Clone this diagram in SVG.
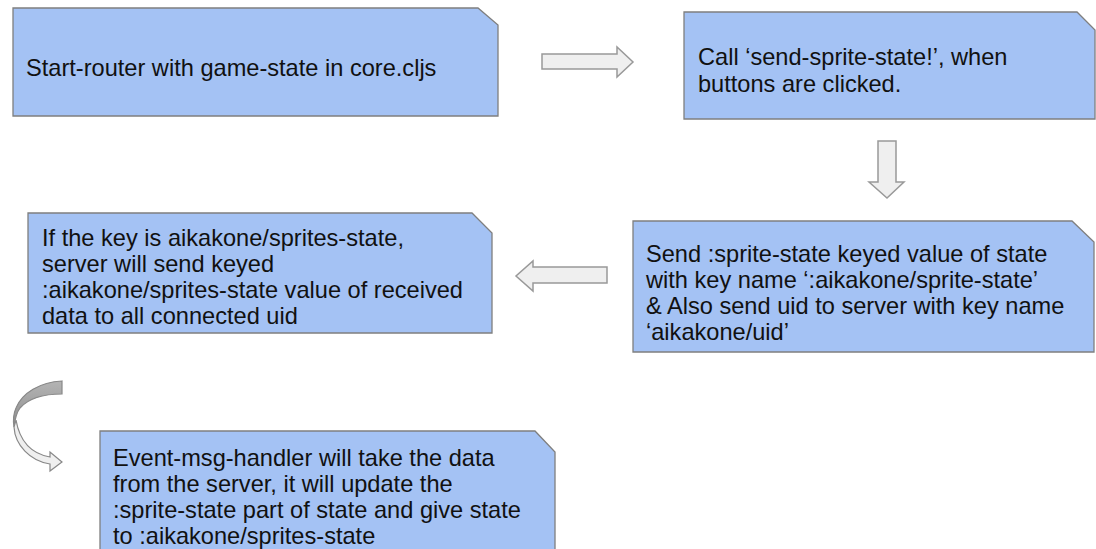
<svg xmlns="http://www.w3.org/2000/svg" width="1096" height="549" viewBox="0 0 1096 549">
  <defs>
    <linearGradient id="curveDark" x1="0" y1="0" x2="0" y2="1">
      <stop offset="0" stop-color="#b4b4b4"/>
      <stop offset="1" stop-color="#8e8e8e"/>
    </linearGradient>
  </defs>
  <style>
    .box { fill: #a4c2f4; stroke: #7f7f7f; stroke-width: 1.3; }
    .arrow { fill: #efefef; stroke: #999999; stroke-width: 1.5; stroke-linejoin: miter; }
    .txt { font-family: "Liberation Sans", Arial, sans-serif; font-size: 23.6px; fill: #111111; }
  </style>
  <rect width="1096" height="549" fill="#ffffff"/>

  <g id="node-start-router">
    <path class="box" d="M13,8 H478 L498,25 V116 H13 Z"/>
    <text class="txt" x="26" y="76">Start-router with game-state in core.cljs</text>
  </g>

  <g id="node-call-send">
    <path class="box" d="M684,12 H1077 L1095,30 V119 H684 Z"/>
    <text class="txt" x="698" y="65">Call ‘send-sprite-state!’, when</text>
    <text class="txt" x="698" y="92">buttons are clicked.</text>
  </g>

  <g id="node-send-state">
    <path class="box" d="M633,221 H1072 L1094,242 V352 H633 Z"/>
    <text class="txt" x="646" y="262">Send :sprite-state keyed value of state</text>
    <text class="txt" x="646" y="288">with key name ‘:aikakone/sprite-state’</text>
    <text class="txt" x="646" y="314">&amp; Also send uid to server with key name</text>
    <text class="txt" x="646" y="340">‘aikakone/uid’</text>
  </g>

  <g id="node-server">
    <path class="box" d="M28,213 H472 L492,233 V333 H28 Z"/>
    <text class="txt" x="42" y="246">If the key is aikakone/sprites-state,</text>
    <text class="txt" x="42" y="272">server will send keyed</text>
    <text class="txt" x="42" y="298">:aikakone/sprites-state value of received</text>
    <text class="txt" x="42" y="324">data to all connected uid</text>
  </g>

  <g id="node-event-handler">
    <path class="box" d="M100,431 H535 L555,452 V560 H100 Z"/>
    <text class="txt" x="113" y="466">Event-msg-handler will take the data</text>
    <text class="txt" x="113" y="492">from the server, it will update the</text>
    <text class="txt" x="113" y="518">:sprite-state part of state and give state</text>
    <text class="txt" x="113" y="544">to :aikakone/sprites-state</text>
  </g>

  <g id="connectors">
    <path class="arrow" d="M542,54 H617 V47 L633,62 L617,77 V69 H542 Z"/>
    <path class="arrow" d="M878,141 H896 V182 H904 L887,198 L869,182 H878 Z"/>
    <path class="arrow" d="M607,267 H533 V261 L516,276 L533,291 V283 H607 Z"/>
    <path d="M62,381 C40,382 22,393 16,408 C13,415 13,421 14,427 C15,419 17,412 20,408 C28,399 42,394 62,394 Z" fill="url(#curveDark)" stroke="#888888" stroke-width="1.2"/>
    <path d="M14,427 C15,445 30,461 50,464 V471 L62,462 L50,452 V457 C33,454 20,443 16,420 Z" fill="#efefef" stroke="#888888" stroke-width="1.2" stroke-linejoin="miter"/>
  </g>
</svg>
